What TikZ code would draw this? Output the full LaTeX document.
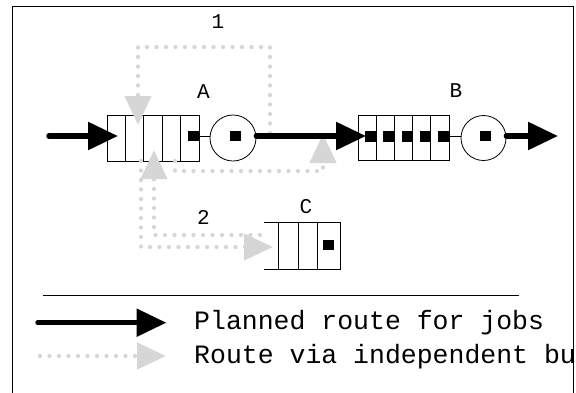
\documentclass[tikz,border=0pt]{standalone}
\usepackage{fontspec}
\newfontfamily\cour{Liberation Mono}
\usetikzlibrary{arrows.meta}
\definecolor{busgray}{RGB}{214,214,214}
\begin{document}
\begin{tikzpicture}[x=1pt,y=-1pt,
  qbox/.style={draw, line width=0.8pt, inner sep=0pt},
  server/.style={circle, draw, line width=0.8pt, minimum size=46pt, inner sep=0pt},
  job/.style={fill=black, minimum width=11pt, minimum height=10pt, inner sep=0pt},
  link/.style={line width=0.8pt},
  flow/.style={line width=5.5pt, line cap=round, -{Triangle[length=30pt,width=27pt]}},
  bus/.style={draw=busgray, line width=4.3pt, line cap=round, dash pattern=on 0pt off 9.5pt,
    -{Triangle[length=29pt,width=26pt,fill=busgray,color=busgray]}},
  lbl/.style={font=\cour\fontsize{21}{24}\selectfont, anchor=base, inner sep=0pt},
  legtext/.style={font=\cour\fontsize{26.5}{30}\selectfont, anchor=base west, inner sep=0pt}]
\useasboundingbox (0,0) rectangle (576,392);
% frame
\draw[line width=1pt] (12,6) rectangle (573,440);

% queue A
\node[qbox, minimum width=92pt, minimum height=46pt] (qA) at (153,138) {};
\foreach \x in {125.4,143.8,162.2,180.6} \draw[link] (\x,115) -- (\x,161);
\node[job] (jA) at (193.5,136) {};
\node[server] (sA) at (233,138) {};
\node[job] (jsA) at (235.5,136) {};
\draw[link] (qA.east |- jA) -- (sA.west |- jA);

% queue B
\node[qbox, minimum width=91pt, minimum height=45pt] (qB) at (403.5,137.5) {};
\foreach \x in {376.2,394.4,412.6,430.8} \draw[link] (\x,115) -- (\x,160);
\foreach \x [count=\i] in {370.7,388.9,407.1,425.3,443.5} \node[job, minimum height=11pt] (jB\i) at (\x,136.5) {};
\node[server, minimum size=45pt] (sB) at (483.5,138) {};
\node[job] (jsB) at (485.5,136) {};
\draw[link] (qB.east |- jsB) -- (sB.west |- jsB);

% queue C
\node[minimum width=76pt, minimum height=46pt, inner sep=0pt] (qC) at (302,246) {};
\draw[link] (qC.north west) -- (qC.north east) -- (qC.south east) -- (qC.south west);
\foreach \x in {278,298,317} \draw[link] (\x,223) -- (\x,269);
\node[job] (jC) at (328.5,245) {};

% labels
\node[lbl] (labA) at (203.5,98) {A};
\node[lbl] (labB) at (456,97) {B};
\node[lbl] (labC) at (306,213) {C};
\node[lbl] (lab1) at (218,28) {1};
\node[lbl] (lab2) at (203.5,224) {2};

% bus routes
\coordinate (r1s) at (270,133);
\coordinate (r1e) at (138,125);
\draw[bus] (r1s) -- (270,47) -- (138,47) -- (r1e);
\coordinate (rBs) at (175,161);
\coordinate (rBe) at (323,134);
\draw[bus] (rBs) -- (175,171) -- (323,171) -- (rBe);
\coordinate (rCs) at (141,161);
\coordinate (rCe) at (273,247);
\draw[bus] (rCs) -- (141,247) -- (rCe);
\coordinate (rAs) at (260,235);
\coordinate (rAe) at (154,150);
\draw[bus] (rAs) -- (154,235) -- (rAe);

% planned flow
\coordinate (in) at (49,136);
\coordinate (out) at (558,136);
\draw[flow] (in) -- (118,136);
\draw[flow] (sA.east |- in) -- (366,136);
\draw[flow] (sB.east |- in) -- (out);

% legend
\draw[line width=0.8pt] (43,295) -- (519,295);
\coordinate (lg1s) at (38,322.7);
\coordinate (lg1e) at (166.5,322.7);
\draw[flow] (lg1s) -- (lg1e);
\coordinate (lg2s) at (40,356);
\coordinate (lg2e) at (166,356);
\draw[bus] (lg2s) -- (lg2e);
\begin{scope}
\clip (12,6) rectangle (573,440);
\node[legtext] (t1) at (194,329) {Planned route for jobs};
\node[legtext] (t2) at (194,363.3) {Route via independent bu};
\end{scope}
\end{tikzpicture}
\end{document}
